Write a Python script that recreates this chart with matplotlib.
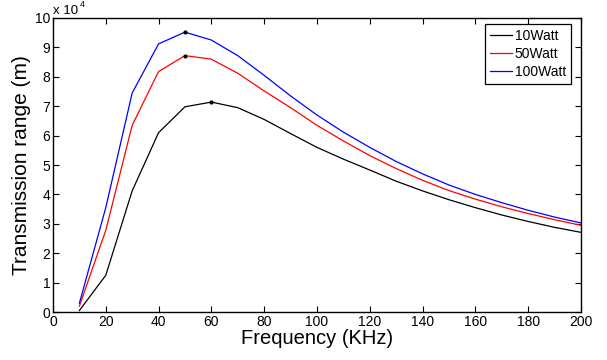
import matplotlib
matplotlib.use("Agg")
import matplotlib.pyplot as plt

plt.rcParams['font.family'] = ['Liberation Sans', 'DejaVu Sans']

freq = [10, 20, 30, 40, 50, 60, 70, 80, 90, 100, 110, 120, 130, 140, 150, 160, 170, 180, 190, 200]
range_10w = [0.05, 1.25, 4.12, 6.10, 6.98, 7.14, 6.95, 6.55, 6.07, 5.60, 5.20, 4.83, 4.45, 4.12, 3.82, 3.55, 3.30, 3.08, 2.88, 2.71]
range_50w = [0.20, 2.78, 6.35, 8.18, 8.72, 8.60, 8.12, 7.52, 6.95, 6.35, 5.82, 5.32, 4.88, 4.48, 4.13, 3.84, 3.58, 3.35, 3.14, 2.95]
range_100w = [0.30, 3.55, 7.45, 9.12, 9.52, 9.25, 8.72, 8.05, 7.35, 6.70, 6.12, 5.60, 5.12, 4.70, 4.32, 4.00, 3.72, 3.46, 3.23, 3.03]
labels = ['10Watt', '50Watt', '100Watt']
colors = ['black', 'red', 'blue']
peak_freq = [60, 50, 50]
peak_val = [7.14, 8.72, 9.52]

fig = plt.figure(figsize=(6.07, 3.6), dpi=100)
ax = fig.add_axes([0.0873, 0.1333, 0.8697, 0.8167])

for ys, lab, c in zip([range_10w, range_50w, range_100w], labels, colors):
    ax.plot(freq, ys, color=c, lw=0.9, label=lab)
ax.plot(peak_freq, peak_val, 'k.', ms=4, zorder=5)

ax.set_xlim(0, 200)
ax.set_ylim(0, 10)
ax.set_xticks(range(0, 201, 20))
ax.set_yticks(range(0, 11))
ax.tick_params(direction='in', top=True, right=True, labelsize=10, length=4, width=0.8, pad=2)
for s in ax.spines.values():
    s.set_linewidth(1.0)

ax.set_xlabel('Frequency (KHz)', fontsize=14.5, labelpad=0)
ax.set_ylabel('Transmission range (m)', fontsize=15, labelpad=3)
ax.text(0.0, 1.004, 'x 10', transform=ax.transAxes, fontsize=9.5, ha='left', va='bottom')
ax.text(0.05, 1.03, '4', transform=ax.transAxes, fontsize=6.5, ha='left', va='bottom')

leg = ax.legend(loc='upper right', fontsize=10, handlelength=1.6, handletextpad=0.2,
                borderpad=0.35, labelspacing=0.3, fancybox=False, framealpha=1,
                borderaxespad=0, bbox_to_anchor=(0.981, 0.98))
leg.get_frame().set_edgecolor('black')
leg.get_frame().set_linewidth(0.9)

fig.savefig('out.png', dpi=100)
